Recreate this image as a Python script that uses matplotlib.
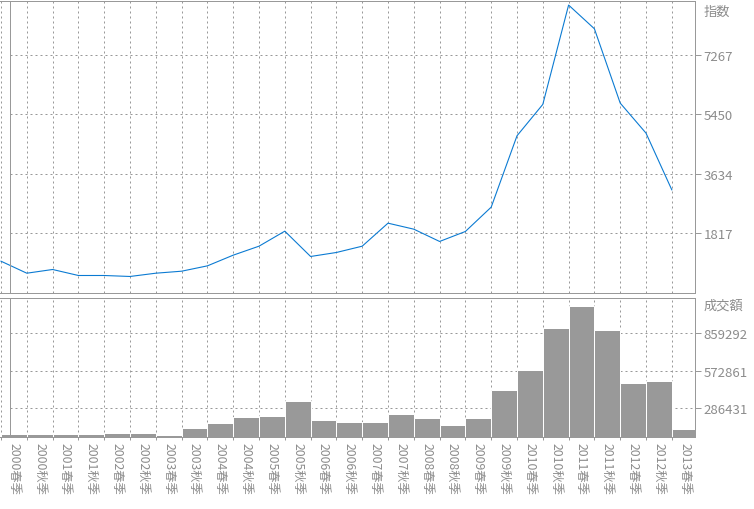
import numpy as np
import matplotlib
matplotlib.use("Agg")
import matplotlib.pyplot as plt

''' Data '''
periods = ['2000春季', '2000秋季', '2001春季', '2001秋季', '2002春季', '2002秋季',
           '2003春季', '2003秋季', '2004春季', '2004秋季', '2005春季', '2005秋季',
           '2006春季', '2006秋季', '2007春季', '2007秋季', '2008春季', '2008秋季',
           '2009春季', '2009秋季', '2010春季', '2010秋季', '2011春季', '2011秋季',
           '2012春季', '2012秋季', '2013春季']

index_values = [970, 604, 717, 534, 534, 504, 604, 665, 828, 1154, 1428, 1886,
                1114, 1236, 1428, 2130, 1947, 1572, 1877, 2619, 4795, 5753,
                8783, 8060, 5793, 4877, 3147]

volume = [90100, 87800, 87800, 88000, 97800, 97800, 82500, 136000, 174000,
          222000, 230000, 342000, 197000, 184000, 184000, 243000, 215000,
          161000, 215000, 428500, 581000, 900000, 1070000, 884000, 480000,
          497000, 128000]

index_ticks = [1817, 3634, 5450, 7267]
volume_ticks = [286431, 572861, 859292]

''' Style '''
plt.rcParams['font.family'] = ['Noto Sans CJK JP', 'DejaVu Sans']
plt.rcParams['lines.scale_dashes'] = False
GREY = '#999999'
TXT = '#8c8c8c'
BLUE = '#0a7ad2'
PX = 0.72  # one pixel in points at dpi 100
FS = 9.5
DOTS = (1.44, 2.16)

W, H = 754, 510
fig = plt.figure(figsize=(W / 100, H / 100), dpi=100)

ax1 = fig.add_axes([0, 1 - 294 / H, 695 / W, (294 - 1.7) / H])
ax2 = fig.add_axes([0, 1 - 437.7 / H, 695 / W, (437.7 - 299.3) / H])

x = np.arange(len(periods))
x_left = -1 / 25.8
x_right = (695 - 1) / 25.8
frame_x = (10 - 1) / 25.8

for ax in (ax1, ax2):
  ax.set_xlim(x_left, x_right)
  ax.set_xticks(x)
  ax.set_xticks(x + 0.5, minor=True)
  ax.grid(True, axis='x', which='major', color=GREY, linewidth=PX, dashes=DOTS)
  ax.set_axisbelow(True)
  for s in ax.spines.values():
    s.set_color(GREY)
    s.set_linewidth(PX)
  ax.spines['left'].set_position(('data', frame_x))
  ax.yaxis.tick_right()
  ax.tick_params(axis='y', which='both', direction='out', length=6 * PX,
                 width=PX, color=GREY, labelcolor=TXT, labelsize=FS, pad=2)

# index line
ax1.hlines(index_ticks, frame_x, x_right, color=GREY, linewidth=PX,
           linestyles=[(0, DOTS)], zorder=0.5)
ax1.plot(x, index_values, color=BLUE, linewidth=1.1 * PX, clip_on=False)
ax1.set_ylim(0, 8916)
ax1.set_yticks(index_ticks, [str(v) for v in index_ticks])
ax1.tick_params(axis='x', which='both', length=0, labelbottom=False)
ax1.text(1.012, 0.962, '指数', transform=ax1.transAxes, color=TXT,
         fontsize=FS, ha='left', va='center')

# volume bars
ax2.hlines(volume_ticks, frame_x, x_right, color=GREY, linewidth=PX,
           linestyles=[(0, DOTS)], zorder=0.5)
ax2.bar(x, volume, width=1.0, align='edge', color=GREY, edgecolor='white',
        linewidth=PX)
ax2.set_ylim(69500, 1126600)
ax2.set_yticks(volume_ticks, [str(v) for v in volume_ticks])
ax2.tick_params(axis='x', which='major', length=3 * PX, width=PX, color=GREY,
                labelbottom=False)
ax2.tick_params(axis='x', which='minor', length=0, pad=4, labelsize=8.8,
                labelcolor=TXT)
ax2.set_xticklabels(periods, minor=True, rotation=-90, ha='center', va='top')
ax2.text(1.012, 0.95, '成交額', transform=ax2.transAxes, color=TXT,
         fontsize=FS, ha='left', va='center')

fig.savefig('out.png', dpi=100)
